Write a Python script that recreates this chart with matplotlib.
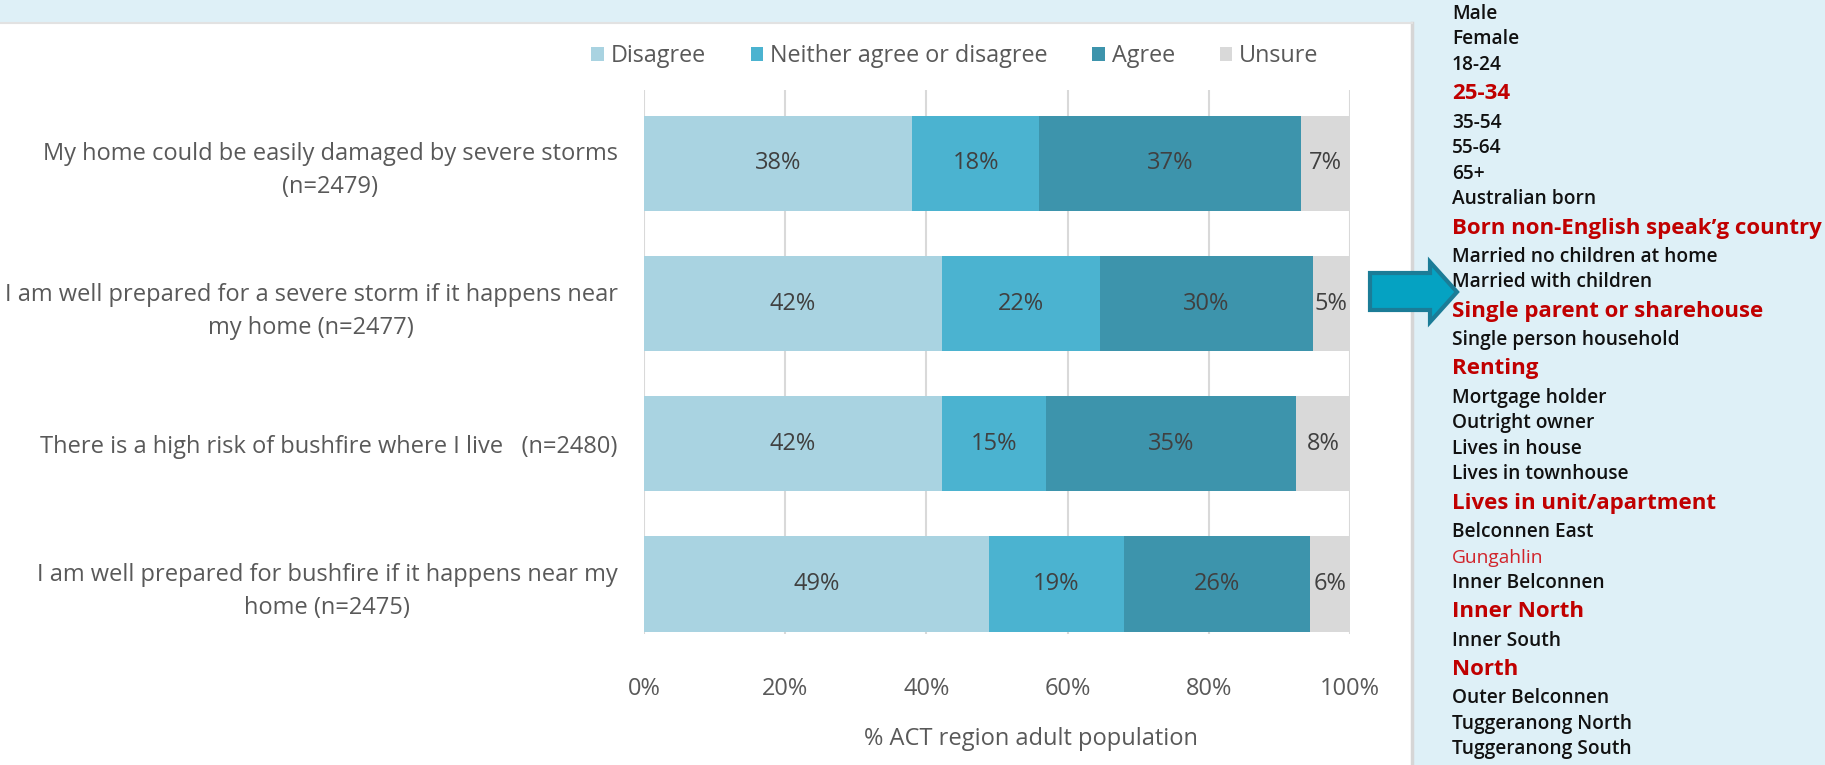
import matplotlib.pyplot as plt
from matplotlib.patches import Rectangle, Polygon
from matplotlib.lines import Line2D

plt.rcParams['font.family'] = ['Open Sans', 'DejaVu Sans']

# data
statements = [
    "My home could be easily damaged by severe storms\n(n=2479)",
    "I am well prepared for a severe storm if it happens near\nmy home (n=2477)",
    "There is a high risk of bushfire where I live   (n=2480)",
    "I am well prepared for bushfire if it happens near my\nhome (n=2475)",
]
responses = ["Disagree", "Neither agree or disagree", "Agree", "Unsure"]
disagree = [38, 42.2, 42.2, 48.8]
neither = [18, 22.4, 14.8, 19.2]
agree = [37, 30.1, 35.4, 26.4]
unsure = [7, 5.3, 7.6, 5.6]
colors = ["#A9D3E1", "#4BB3D0", "#3D94AC", "#D9D9D9"]

xticks = [0, 20, 40, 60, 80, 100]
xlabel = "% ACT region adult population"

groups = ["Male", "Female", "18-24", "25-34", "35-54", "55-64", "65+",
          "Australian born", "Born non-English speak\u2019g country",
          "Married no children at home", "Married with children",
          "Single parent or sharehouse", "Single person household", "Renting",
          "Mortgage holder", "Outright owner", "Lives in house",
          "Lives in townhouse", "Lives in unit/apartment", "Belconnen East",
          "Gungahlin", "Inner Belconnen", "Inner North", "Inner South", "North",
          "Outer Belconnen", "Tuggeranong North", "Tuggeranong South"]
highlight = ["25-34", "Born non-English speak\u2019g country",
             "Single parent or sharehouse", "Renting", "Lives in unit/apartment",
             "Inner North", "North"]
soft_red = ["Gungahlin"]

W, H = 1825, 765
fig = plt.figure(figsize=(W / 100, H / 100), dpi=100)
fig.patch.set_facecolor("#DEF0F7")


def fx(px):
    return px / W


def fy(py):
    return 1 - py / H


# white chart area + border
fig.add_artist(Rectangle((0, 0), fx(1411), fy(23), transform=fig.transFigure,
                         facecolor="white", edgecolor="none", zorder=0))
fig.add_artist(Line2D([fx(1412), fx(1412)], [0, fy(23)], transform=fig.transFigure,
                      color="#D6D6D6", lw=2.5, zorder=1))
fig.add_artist(Line2D([0, fx(1412)], [fy(23), fy(23)], transform=fig.transFigure,
                      color="#E2E2E2", lw=1.5, zorder=1))

ax = fig.add_axes([fx(644), fy(634), fx(1350) - fx(644), fy(90) - fy(634)])
ax.set_facecolor("none")

series = [disagree, neither, agree, unsure]
ypos = list(range(len(statements)))
left = [0] * len(statements)
for vals, name, c in zip(series, responses, colors):
    bars = ax.barh(ypos, vals, left=left, height=0.68, color=c, label=name, zorder=2)
    for b, v in zip(bars, vals):
        ax.text(b.get_x() + b.get_width() / 2, b.get_y() + b.get_height() / 2,
                f"{v:.0f}%", ha="center", va="center", fontsize=17, color="#404040",
                zorder=3)
    left = [l + v for l, v in zip(left, vals)]

ax.set_xlim(0, 100)
ax.set_ylim(3.357, -0.524)
ax.set_xticks(xticks)
ax.set_xticklabels([f"{t}%" for t in xticks])
ax.set_yticks(ypos)
ax.set_yticklabels(statements)
for lab in ax.get_yticklabels():
    lab.set_multialignment("center")
    lab.set_linespacing(1.5)
ax.tick_params(axis="x", length=0, pad=31, labelsize=17, labelcolor="#595959")
ax.tick_params(axis="y", length=0, pad=19, labelsize=17, labelcolor="#595959")
ax.grid(axis="x", color="#D9D9D9", lw=1.5, zorder=0)
ax.set_axisbelow(True)
for s in ax.spines.values():
    s.set_visible(False)

fig.text(fx(1031), fy(739), xlabel, ha="center", va="center", fontsize=17,
         color="#595959")

ax.legend(ncol=4, loc="center", bbox_to_anchor=(fx(955), fy(56)),
          bbox_transform=fig.transFigure, frameon=False, fontsize=16.8,
          handlelength=0.55, handleheight=0.55, handletextpad=0.3,
          columnspacing=1.9, labelcolor="#595959")

# side panel list
y = 14
prev_big = False
for i, g in enumerate(groups):
    big = g in highlight
    if i > 0:
        y += (16.1 if prev_big else 12.75) + (16.1 if big else 12.75)
    if big:
        fig.text(fx(1452), fy(y), g, ha="left", va="center", fontsize=16,
                 fontweight="bold", color="#C00000")
    elif g in soft_red:
        fig.text(fx(1452), fy(y), g, ha="left", va="center", fontsize=13.8,
                 color="#D1232A")
    else:
        fig.text(fx(1452), fy(y), g, ha="left", va="center", fontsize=13.8,
                 fontweight="semibold", color="#111111")
    prev_big = big

# arrow pointing at the panel
arrow_px = [(1370, 273), (1430, 273), (1430, 262), (1457, 292),
            (1430, 322), (1430, 310), (1370, 310)]
fig.add_artist(Polygon([(fx(a), fy(b)) for a, b in arrow_px], closed=True,
                       transform=fig.transFigure, facecolor="#05A2C2",
                       edgecolor="#1B7C97", lw=3, zorder=5))

fig.savefig("out.png", dpi=100, facecolor=fig.get_facecolor())
